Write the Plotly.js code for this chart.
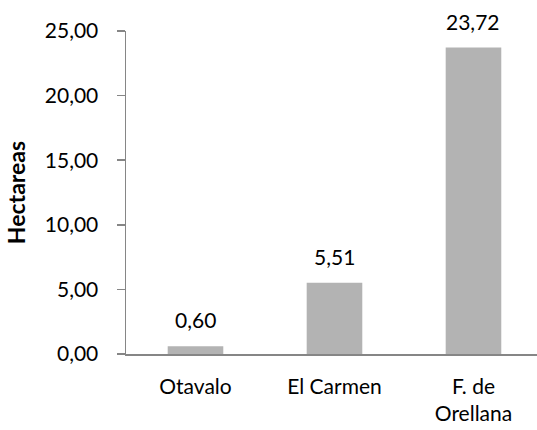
<!DOCTYPE html>
<html>
<head>
<meta charset="utf-8">
<script src="https://cdn.plot.ly/plotly-3.0.1.min.js"></script>
<style>html,body{margin:0;padding:0;background:#fff;}#chart{width:537px;height:430px;}</style>
</head>
<body>
<div id="chart"></div>
<script>
const categories = ["Otavalo", "El Carmen", "F. de<br>Orellana"];
const values = [0.60, 5.51, 23.72];
const valueLabels = ["0,60", "5,51", "23,72"];
const yTickVals = [0, 5, 10, 15, 20, 25];

const FONT = "Lato, 'Open Sans', sans-serif";

const trace = {
  type: "bar",
  x: [0, 1, 2],
  y: values,
  width: 0.4,
  marker: {color: "#b3b3b3"},
  hoverinfo: "skip"
};

const annotations = values.map((v, i) => ({
  x: i, y: v, xref: "x", yref: "y",
  text: valueLabels[i], showarrow: false,
  yanchor: "bottom", yshift: 12,
  font: {family: FONT, size: 21, color: "#000"}
}));

const layout = {
  width: 537, height: 430,
  margin: {l: 126, r: 0, t: 30.5, b: 76},
  paper_bgcolor: "#fff", plot_bgcolor: "#fff",
  separators: ",.",
  showlegend: false,
  font: {family: FONT, size: 21, color: "#000"},
  xaxis: {
    range: [-0.5, 2.457],
    tickmode: "array", tickvals: [0, 1, 2], ticktext: categories,
    showgrid: false, zeroline: false,
    showline: true, linecolor: "#868686", linewidth: 1.5,
    ticks: "", ticklabelstandoff: 13,
    tickfont: {family: FONT, size: 21, color: "#000"},
    fixedrange: true
  },
  yaxis: {
    range: [0, 25],
    tickmode: "array", tickvals: yTickVals,
    tickformat: ".2f",
    showgrid: false, zeroline: false,
    showline: true, linecolor: "#868686", linewidth: 1.5,
    ticks: "outside", ticklen: 8, tickcolor: "#868686", tickwidth: 1.5,
    ticklabelstandoff: 14,
    tickfont: {family: FONT, size: 21, color: "#000"},
    title: {text: "Hectareas", font: {family: FONT, size: 23, color: "#000", weight: "bold"}, standoff: 12},
    fixedrange: true
  },
  annotations: annotations
};

Plotly.newPlot("chart", [trace], layout, {displayModeBar: false, staticPlot: true});
</script>
</body>
</html>
